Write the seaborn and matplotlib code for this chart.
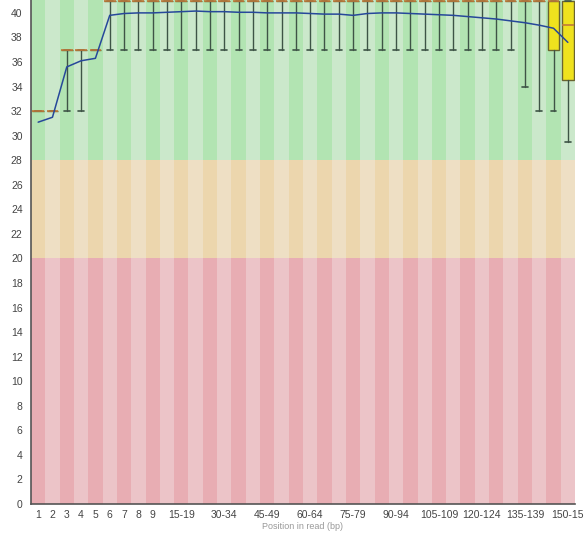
import numpy as np
import matplotlib
matplotlib.use('Agg')
import matplotlib.pyplot as plt
import seaborn as sns

# ============================================================================
# Data (read from the per-base quality picture)
# ============================================================================
positions = ['1', '2', '3', '4', '5', '6', '7', '8', '9',
             '10-14', '15-19', '20-24', '25-29', '30-34', '35-39', '40-44',
             '45-49', '50-54', '55-59', '60-64', '65-69', '70-74', '75-79',
             '80-84', '85-89', '90-94', '95-99', '100-104', '105-109',
             '110-114', '115-119', '120-124', '125-129', '130-134',
             '135-139', '140-144', '145-149', '150-15']

mean_q = [31.1, 31.5, 35.6, 36.1, 36.3, 39.8, 39.95, 40.0, 40.0, 40.05,
          40.1, 40.15, 40.1, 40.1, 40.05, 40.05, 40.0, 40.0, 40.0, 39.95,
          39.9, 39.9, 39.8, 39.95, 40.0, 40.0, 39.95, 39.9, 39.85, 39.8,
          39.7, 39.6, 39.5, 39.35, 39.2, 39.0, 38.75, 37.6]

p10 = [32, 32, 32, 32, 37] + [37] * 29 + [34, 32, 32, 29.5]
q1 = [32, 32, 37, 37, 37] + [41] * 29 + [41, 41, 37, 34.5]
median_q = [32, 32, 37, 37, 37] + [41] * 29 + [41, 41, 41, 39]
q3 = [32, 32, 37, 37, 37] + [41] * 29 + [41, 41, 41, 41]
p90 = [32, 32, 37, 37, 37] + [41] * 29 + [41, 41, 41, 41]

shown_ticks = ['1', '2', '3', '4', '5', '6', '7', '8', '9', '15-19', '30-34',
               '45-49', '60-64', '75-79', '90-94', '105-109', '120-124',
               '135-139', '150-15']

# quality zones: (bottom, top, dark colour, light colour)
zones = [(0, 20, '#e8adb3', '#ecc4c8'),
         (20, 28, '#ecd6ad', '#eedfc4'),
         (28, 42, '#b2e4b2', '#cbe8cb')]

# ============================================================================
# Plot
# ============================================================================
sns.set_style('white')
plt.rcParams['font.family'] = ['Liberation Sans', 'DejaVu Sans']

fig = plt.figure(figsize=(5.86, 5.34), dpi=100)
ax = fig.add_axes([31 / 586, 30 / 534, 544 / 586, 504 / 534])

x = np.arange(len(positions))

# alternating stripes
for lo, hi, dark, light in zones:
    cols = [dark if i % 2 == 0 else light for i in x]
    ax.bar(x, hi - lo, bottom=lo, width=1.0, color=cols, linewidth=0, zorder=0)

stats = []
for i in range(len(positions)):
    stats.append(dict(med=median_q[i], q1=q1[i], q3=q3[i],
                      whislo=p10[i], whishi=p90[i], fliers=[]))

ax.bxp(stats, positions=x, widths=0.82, patch_artist=True, showfliers=False,
       boxprops=dict(facecolor='#efe21e', edgecolor='#6a6430', linewidth=1),
       medianprops=dict(color='#c07a3a', linewidth=1.2),
       whiskerprops=dict(color='#3e5446', linewidth=1),
       capprops=dict(color='#3e5446', linewidth=1.2),
       manage_ticks=False, zorder=2)

sns.lineplot(x=x, y=mean_q, color='#27489a', linewidth=1.1, ax=ax, zorder=3)

ax.set_xlim(-0.5, len(positions) - 0.5)
ax.set_ylim(0, 41.05)
ax.set_yticks(np.arange(0, 41, 2))
ax.set_yticklabels([str(v) for v in range(0, 41, 2)])
tick_pos = [positions.index(t) for t in shown_ticks]
ax.set_xticks(tick_pos)
ax.set_xticklabels(shown_ticks)
ax.tick_params(axis='both', length=0, labelsize=7.5, colors='#444444')
ax.tick_params(axis='y', pad=6)
ax.tick_params(axis='x', pad=4)

for side in ['top', 'right']:
    ax.spines[side].set_visible(False)
for side in ['left', 'bottom']:
    ax.spines[side].set_color('#555555')
    ax.spines[side].set_linewidth(1.2)

ax.set_xlabel('Position in read (bp)', fontsize=6.5, color='#999999', labelpad=1.5)

plt.savefig('out.png', dpi=100)
